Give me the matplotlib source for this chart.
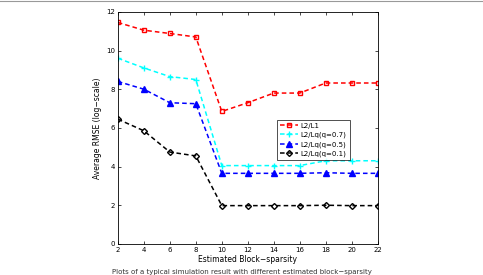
import numpy as np
from matplotlib import pyplot as plt
from matplotlib.lines import Line2D

blokk = [2, 4, 6, 8, 10, 12, 14, 16, 18, 20, 22]
l2_l1 = [11.45, 11.05, 10.88, 10.7, 6.85, 7.3, 7.8, 7.8, 8.32, 8.32, 8.32]
lq_07 = [9.6, 9.1, 8.65, 8.5, 4.05, 4.05, 4.05, 4.05, 4.3, 4.3, 4.3]
lq_05 = [8.4, 8.0, 7.3, 7.25, 3.65, 3.65, 3.65, 3.65, 3.68, 3.65, 3.65]
lq_01 = [6.45, 5.85, 4.75, 4.55, 1.98, 1.98, 1.98, 1.98, 2.0, 1.98, 1.98]

fig = plt.figure(figsize=(4.83, 2.75), dpi=100)
ax = fig.add_axes([0.244, 0.113, 0.538, 0.844])

stil = dict(ls='--', dashes=(3, 2), lw=1.1)
ax.plot(blokk, l2_l1, marker='s', color='r', mfc='none', ms=3.5, label='L2/L1', **stil)
ax.plot(blokk, lq_07, marker='+', color='cyan', ms=4, label='L2/Lq(q=0.7)', **stil)
ax.plot(blokk, lq_05, marker='^', color='b', ms=4, label='L2/Lq(q=0.5)', **stil)
ax.plot(blokk, lq_01, marker='D', color='k', mfc='none', ms=3, label='L2/Lq(q=0.1)', **stil)

ax.set_xlim(2, 22)
ax.set_ylim(0, 12)
ax.set_xticks(np.arange(2, 23, 2))
ax.set_yticks(np.arange(0, 13, 2))
ax.tick_params(direction='in', labelsize=5, length=2.5, width=0.5, top=True, right=True, pad=2)
for s in ax.spines.values():
    s.set_linewidth(0.6)

ax.set_xlabel('Estimated Block\u2212sparsity', fontsize=5.5, labelpad=2)
ax.set_ylabel('Average RMSE (log\u2212scale)', fontsize=5.5, labelpad=3)

leg = ax.legend(loc='upper left', bbox_to_anchor=(0.6, 0.55), fontsize=5, frameon=True,
                fancybox=False, edgecolor='k', handlelength=2.6, borderpad=0.4,
                labelspacing=0.45, handletextpad=0.4)
leg.get_frame().set_linewidth(0.6)

fig.add_artist(Line2D([0, 1], [0.995, 0.995], color='#999999', lw=0.8))
fig.text(0.5, 0.0, 'Plots of a typical simulation result with different estimated block\u2212sparsity',
         ha='center', va='bottom', fontsize=5, color='#333333')

plt.savefig('out.png')
